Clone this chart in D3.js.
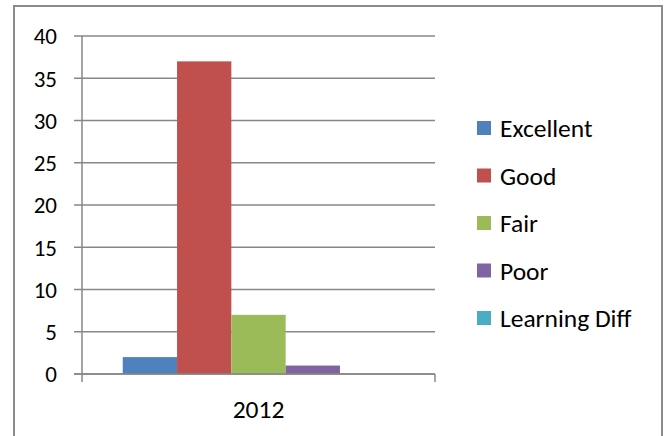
<!DOCTYPE html>
<html>
<head>
<meta charset="utf-8">
<script src="https://cdn.jsdelivr.net/npm/d3@7/dist/d3.min.js"></script>
<style>
  html, body { margin: 0; padding: 0; background: #fff; }
  svg { display: block; }
  text { font-family: Carlito, Calibri, Lato, "Open Sans", sans-serif; fill: #000; }
</style>
</head>
<body>
<svg id="chart" width="668" height="436"></svg>
<script>
// Ratings recorded for 2012
const categories = ["2012"];
const seriesNames = ["Excellent", "Good", "Fair", "Poor", "Learning Diff"];
const seriesValues = [2, 37, 7, 1, 0];
const seriesColors = ["#4F81BD", "#C0504D", "#9BBB59", "#8064A2", "#4BACC6"];
const yTicks = [0, 5, 10, 15, 20, 25, 30, 35, 40];

const svg = d3.select("#chart");
const gridColor = "#878787";

// Outer chart frame (runs off the bottom edge)
svg.append("rect")
  .attr("x", 14).attr("y", 6)
  .attr("width", 648).attr("height", 450)
  .attr("fill", "none")
  .attr("stroke", "#8c8c8c")
  .attr("stroke-width", 2);

const plot = { left: 82, right: 435, top: 36, bottom: 374 };

const y = d3.scaleLinear().domain([0, 40]).range([plot.bottom, plot.top]);
const x0 = d3.scaleBand().domain(categories).range([plot.left, plot.right]);
const x1 = d3.scaleBand().domain(seriesNames)
  .range([0, x0.bandwidth()])
  .paddingInner(0).paddingOuter(0.75);

// Horizontal gridlines with left tick extension
svg.append("g").selectAll("line").data(yTicks).join("line")
  .attr("x1", plot.left - 8).attr("x2", plot.right)
  .attr("y1", d => y(d)).attr("y2", d => y(d))
  .attr("stroke", gridColor).attr("stroke-width", 1.5);

// Value axis line
svg.append("line")
  .attr("x1", plot.left).attr("x2", plot.left)
  .attr("y1", plot.top).attr("y2", plot.bottom)
  .attr("stroke", gridColor).attr("stroke-width", 1.5);

// Category axis tick marks at band edges
svg.append("g").selectAll("line").data([plot.left, plot.right]).join("line")
  .attr("x1", d => d).attr("x2", d => d)
  .attr("y1", plot.bottom).attr("y2", plot.bottom + 8)
  .attr("stroke", gridColor).attr("stroke-width", 1.5);

// Y tick labels
svg.append("g").selectAll("text").data(yTicks).join("text")
  .attr("x", 57).attr("y", d => y(d))
  .attr("dy", "0.36em")
  .attr("text-anchor", "end")
  .style("font-size", "23px")
  .text(d => d);

// Bars
const bars = seriesNames.map((name, i) => ({ name, value: seriesValues[i], color: seriesColors[i] }));
svg.append("g").selectAll("rect").data(bars).join("rect")
  .attr("x", d => x0("2012") + x1(d.name))
  .attr("width", x1.bandwidth())
  .attr("y", d => y(d.value))
  .attr("height", d => y(0) - y(d.value))
  .attr("fill", d => d.color);

// Redraw the zero line over the bars' base
svg.append("line")
  .attr("x1", plot.left - 8).attr("x2", plot.right)
  .attr("y1", y(0)).attr("y2", y(0))
  .attr("stroke", gridColor).attr("stroke-width", 1.5);

// Category label
svg.append("text")
  .attr("x", x0("2012") + x0.bandwidth() / 2)
  .attr("y", 418)
  .attr("text-anchor", "middle")
  .style("font-size", "25.5px")
  .text(categories[0]);

// Legend
const legend = svg.append("g");
const rowY = d3.scalePoint().domain(seriesNames).range([128, 318]);
const items = legend.selectAll("g").data(bars).join("g")
  .attr("transform", d => `translate(477, ${rowY(d.name)})`);
items.append("rect")
  .attr("x", 0).attr("y", -7)
  .attr("width", 14).attr("height", 14)
  .attr("fill", d => d.color);
items.append("text")
  .attr("x", 23).attr("y", 0)
  .attr("dy", "0.36em")
  .style("font-size", "25.5px")
  .text(d => d.name);
</script>
</body>
</html>
